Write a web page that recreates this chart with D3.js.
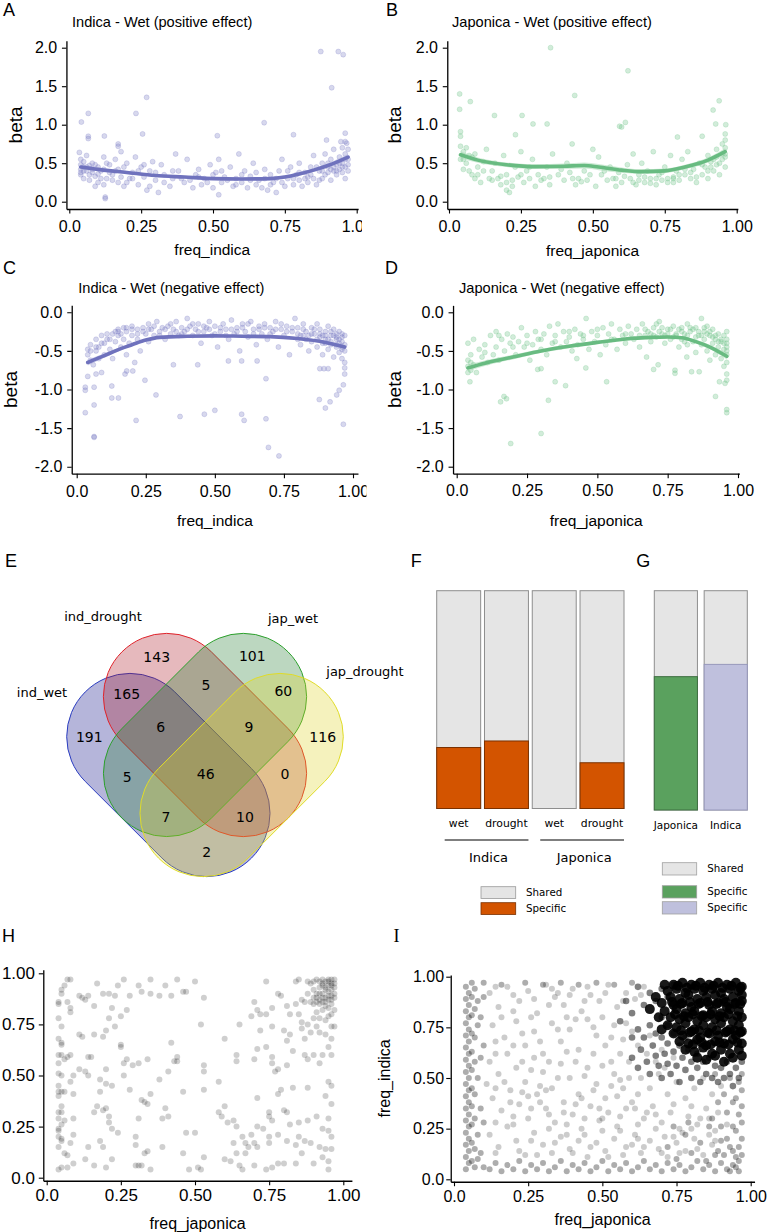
<!DOCTYPE html>
<html><head><meta charset="utf-8">
<script src="https://cdn.jsdelivr.net/npm/d3@7"></script>
<style>html,body{margin:0;padding:0;background:#fff;} svg{display:block;}</style>
</head><body>
<svg id="fig" width="767" height="1232"></svg>
<script>
// ---------------- DATA ----------------
const freqTicks = [0, 0.25, 0.5, 0.75, 1];
const freqLabels = ["0.0", "0.25", "0.50", "0.75", "1.00"];
const betaPosTicks = [0, 0.5, 1, 1.5, 2];
const betaPosLabels = ["0.0", "0.5", "1.0", "1.5", "2.0"];
const betaNegTicks = [-2, -1.5, -1, -0.5, 0];
const betaNegLabels = ["-2.0", "-1.5", "-1.0", "-0.5", "0.0"];

// A: Indica wet positive (freq_indica, beta)
const aPoints = [
.875,1.95,.936,1.95,.953,1.91,.913,1.48,.269,1.355,.232,1.147,.066,1.147,.042,1.035,.678,1.026,.515,.857,.066,.85,.066,.82,.122,.853,.255,.88,.78,.87,.96,.89,.17,.75,.17,.72,.035,.64,.125,.06,.125,.04,.52,.09,.895,.80,.945,.78,.965,.76,
.04,.42,.04,.48,.04,.35,.04,.55,.05,.30,.05,.45,.05,.52,.06,.40,.06,.60,.07,.28,.07,.47,.08,.38,.08,.50,.09,.20,.09,.33,.10,.45,.10,.25,.11,.40,.12,.58,.12,.22,.13,.30,.14,.48,.15,.35,.16,.55,.17,.25,.17,.42,.18,.65,.19,.20,.20,.50,.21,.30,.22,.38,.23,.58,.24,.22,.25,.45,.26,.32,.27,.15,.28,.40,.29,.52,.30,.28,.31,.12,.32,.48,.33,.35,.35,.20,.36,.30,.37,.62,.38,.40,.40,.25,.41,.55,.43,.18,.44,.35,.45,.42,.46,.22,.47,.30,.49,.48,.50,.18,.51,.38,.52,.55,.53,.25,.54,.32,.56,.45,.57,.20,.58,.30,.59,.62,.60,.25,.61,.40,.62,.18,.63,.33,.64,.50,.65,.22,.66,.28,.67,.18,.68,.42,.69,.15,.70,.35,.71,.25,.72,.12,.73,.40,.74,.55,.75,.20,.76,.30,.77,.45,.78,.22,.79,.35,.80,.28,.80,.50,.81,.20,.82,.38,.83,.25,.84,.45,.85,.30,.85,.60,.86,.22,.87,.40,.88,.50,.88,.30,.89,.62,.90,.38,.90,.45,.91,.55,.91,.28,.92,.68,.92,.40,.93,.48,.93,.35,.94,.58,.94,.42,.95,.70,.95,.50,.95,.38,.96,.62,.96,.45,.96,.78,.96,.30,.97,.55,.97,.40,.97,.68,
.04,.38,.05,.40,.06,.45,.07,.35,.08,.42,.09,.48,.10,.36,.11,.30,.12,.42,.13,.50,.14,.38,.15,.28,.16,.40,.18,.32,.19,.45,.20,.25,.22,.30,.24,.40,.26,.48,.28,.20,.30,.38,.33,.25,.36,.40,.39,.30,.42,.28,.45,.32,.48,.25,.50,.35,.53,.40,.55,.28,.58,.22,.60,.35,.63,.28,.65,.38,.68,.30,.70,.22,.72,.30,.74,.25,.76,.40,.78,.30,.80,.38,.82,.30,.84,.35,.86,.45,.88,.40,.90,.50,.92,.45,.94,.50,.96,.55,.97,.48,.83,.32,.87,.28,.89,.35,.91,.42,.93,.40,.95,.45
];
const aFitX = [.04,.1,.2,.3,.4,.5,.6,.7,.75,.8,.85,.9,.97];
const aFitY = [.45,.42,.38,.34,.32,.30,.295,.30,.32,.36,.41,.47,.58];
const aFitSE = [.035,.025,.02,.02,.018,.018,.018,.02,.02,.022,.025,.03,.04];

// B: Japonica wet positive
const bPoints = [
.353,2.0,.622,1.70,.037,1.40,.437,1.38,.939,1.31,.074,1.30,.037,1.20,.918,1.19,.158,1.12,.254,1.12,.341,1.01,.292,1.01,.593,.98,.60,.97,.962,1.0,.927,1.01,.613,1.03,.794,.84,.88,.85,.428,.75,.231,.87,.04,.91,.04,.85,.96,.88,
.04,.72,.04,.55,.05,.65,.05,.42,.06,.50,.06,.70,.07,.40,.08,.58,.08,.35,.09,.30,.09,.62,.10,.45,.11,.25,.12,.52,.13,.68,.14,.30,.15,.40,.16,.50,.17,.30,.18,.22,.19,.60,.20,.15,.20,.35,.21,.12,.22,.28,.23,.45,.24,.32,.25,.65,.26,.25,.27,.40,.28,.30,.29,.55,.30,.20,.31,.35,.33,.30,.34,.45,.35,.22,.36,.62,.38,.35,.40,.28,.41,.50,.42,.38,.44,.22,.45,.30,.47,.40,.48,.28,.50,.68,.51,.20,.52,.58,.53,.35,.55,.28,.56,.45,.57,.30,.58,.20,.59,.38,.60,.25,.62,.48,.63,.30,.64,.62,.65,.22,.66,.35,.67,.50,.68,.25,.69,.40,.70,.30,.71,.65,.72,.22,.73,.35,.74,.28,.75,.45,.76,.30,.77,.60,.78,.32,.78,.25,.79,.40,.80,.28,.81,.55,.82,.35,.83,.65,.84,.30,.85,.42,.86,.25,.87,.50,.88,.35,.89,.45,.90,.60,.90,.30,.91,.52,.92,.40,.93,.68,.93,.48,.94,.35,.95,.75,.95,.55,.96,.62,.96,.70,.96,.45,.96,.80,
.05,.55,.07,.60,.10,.35,.12,.40,.15,.28,.18,.33,.20,.25,.22,.20,.25,.35,.28,.45,.32,.28,.35,.32,.39,.42,.43,.30,.46,.26,.49,.35,.54,.40,.58,.30,.61,.33,.64,.25,.66,.28,.68,.32,.70,.24,.72,.30,.74,.38,.76,.25,.78,.30,.80,.35,.82,.42,.84,.38,.86,.32,.88,.48,.90,.40,.92,.55,.94,.50,.95,.62,.96,.58,.93,.58,.91,.45
];
const bFitX = [.04,.1,.2,.3,.4,.47,.52,.6,.67,.75,.82,.9,.96];
const bFitY = [.61,.54,.48,.455,.46,.47,.45,.41,.39,.40,.45,.54,.65];
const bFitSE = [.045,.035,.03,.03,.035,.04,.04,.035,.03,.03,.03,.035,.045];

// C: Indica wet negative
const cPoints = [
.063,-1.62,.063,-1.61,.031,-1.30,.063,-1.20,.215,-1.40,.374,-1.35,.462,-1.32,.50,-1.27,.597,-1.32,.606,-1.40,.685,-1.38,.694,-1.75,.732,-1.86,.965,-1.45,.90,-1.24,.878,-1.13,.917,-1.16,.941,-1.07,.95,-1.01,.965,-.94,.127,-1.11,.151,-1.11,.287,-1.07,.127,-.955,.031,-.97,.063,-.97,.031,-1.01,.247,-.88,.685,-.86,.175,-.80,.181,-.76,.203,-.76,.35,-.68,.438,-.68,.549,-.63,.597,-.63,.653,-.63,.88,-.73,.895,-.73,.91,-.73,.04,-.83,.07,-.80,.09,-.78,
.04,-.48,.04,-.55,.05,-.62,.05,-.42,.06,-.68,.07,-.50,.07,-.35,.08,-.45,.08,-.60,.09,-.30,.10,-.40,.10,-.55,.11,-.28,.12,-.35,.12,-.48,.13,-.60,.14,-.25,.14,-.38,.15,-.22,.15,-.30,.16,-.45,.16,-.28,.17,-.20,.17,-.35,.18,-.55,.18,-.25,.19,-.40,.20,-.18,.20,-.30,.21,-.65,.22,-.22,.22,-.35,.23,-.50,.24,-.20,.25,-.28,.26,-.15,.26,-.38,.27,-.22,.28,-.30,.29,-.12,.30,-.25,.31,-.20,.32,-.35,.33,-.18,.34,-.28,.35,-.22,.36,-.12,.37,-.30,.38,-.20,.39,-.25,.40,-.08,.41,-.18,.42,-.30,.43,-.22,.44,-.15,.45,-.40,.46,-.25,.47,-.20,.48,-.12,.49,-.30,.50,-.18,.51,-.45,.52,-.25,.53,-.15,.54,-.22,.55,-.35,.56,-.10,.57,-.28,.58,-.20,.59,-.50,.60,-.15,.61,-.25,.62,-.32,.63,-.12,.64,-.22,.65,-.42,.66,-.18,.67,-.28,.68,-.15,.69,-.35,.70,-.20,.71,-.25,.72,-.12,.73,-.45,.74,-.22,.75,-.30,.76,-.18,.77,-.55,.78,-.25,.79,-.08,.80,-.35,.80,-.20,.81,-.42,.82,-.15,.82,-.30,.83,-.25,.84,-.50,.85,-.20,.85,-.38,.86,-.28,.87,-.15,.87,-.45,.88,-.32,.88,-.22,.89,-.40,.89,-.55,.90,-.25,.90,-.35,.91,-.48,.91,-.18,.92,-.30,.92,-.42,.93,-.22,.93,-.58,.94,-.35,.94,-.28,.94,-.45,.95,-.40,.95,-.25,.95,-.52,.96,-.32,.96,-.45,.96,-.60,.96,-.38,.97,-.42,.97,-.50,.97,-.30,.97,-.65,.97,-.72,.97,-.80,
.15,-.25,.18,-.20,.20,-.22,.22,-.28,.24,-.25,.26,-.22,.28,-.18,.30,-.30,.32,-.22,.34,-.15,.36,-.25,.38,-.28,.40,-.22,.42,-.15,.44,-.25,.46,-.18,.48,-.22,.50,-.28,.52,-.20,.54,-.30,.56,-.22,.58,-.25,.60,-.20,.62,-.15,.64,-.28,.66,-.22,.68,-.20,.70,-.28,.72,-.22,.74,-.15,.76,-.25,.78,-.20,.80,-.28,.82,-.22,.84,-.30,.86,-.22,.88,-.28,.90,-.30,.92,-.25,.94,-.32,.96,-.28,.90,-.40,.92,-.38,.94,-.42,.96,-.48,.95,-.35,.93,-.30,.91,-.35,.89,-.30,.87,-.35,.85,-.28,.83,-.35,.81,-.30,.13,-.28,.11,-.35,.09,-.40,.07,-.45,.05,-.50
];
const cFitX = [.04,.08,.12,.16,.2,.25,.3,.4,.5,.6,.7,.8,.9,.97];
const cFitY = [-.65,-.59,-.53,-.47,-.42,-.36,-.325,-.31,-.305,-.31,-.315,-.34,-.39,-.45];
const cFitSE = [.04,.03,.025,.02,.02,.018,.015,.015,.015,.015,.015,.018,.02,.03];

// D: Japonica wet negative
const dPoints = [
.192,-1.70,.30,-1.57,.156,-1.16,.168,-1.09,.177,-1.12,.326,-1.14,.35,-.90,.387,-.95,.533,-.90,.92,-1.09,.96,-1.26,.96,-1.30,.047,-.90,.288,-.74,.30,-.73,.459,-.72,.427,-.60,.70,-.74,.716,-.68,.776,-.75,.776,-.79,.835,-.77,.862,-.77,.934,-.90,.954,-.92,.818,-.58,.675,-.58,
.04,-.62,.04,-.70,.04,-.40,.05,-.75,.05,-.55,.06,-.35,.06,-.68,.07,-.78,.08,-.48,.09,-.58,.10,-.42,.11,-.65,.12,-.30,.13,-.55,.14,-.25,.14,-.45,.15,-.62,.16,-.35,.17,-.50,.18,-.28,.19,-.40,.20,-.32,.21,-.55,.22,-.38,.23,-.20,.24,-.45,.25,-.30,.26,-.62,.27,-.42,.28,-.25,.29,-.35,.30,-.48,.31,-.28,.32,-.55,.33,-.18,.34,-.40,.35,-.30,.36,-.15,.37,-.45,.38,-.25,.39,-.38,.40,-.32,.41,-.50,.42,-.22,.43,-.42,.44,-.28,.45,-.35,.46,-.08,.47,-.48,.48,-.25,.49,-.38,.50,-.30,.51,-.55,.52,-.20,.53,-.42,.54,-.28,.55,-.15,.56,-.35,.57,-.48,.58,-.22,.59,-.30,.60,-.40,.61,-.18,.62,-.28,.63,-.35,.64,-.22,.65,-.45,.66,-.15,.67,-.30,.68,-.25,.69,-.38,.70,-.20,.71,-.32,.72,-.12,.73,-.28,.74,-.40,.75,-.22,.76,-.35,.77,-.18,.78,-.30,.79,-.45,.80,-.20,.80,-.35,.81,-.28,.82,-.15,.82,-.42,.83,-.25,.84,-.38,.85,-.20,.85,-.52,.86,-.30,.87,-.08,.87,-.42,.88,-.25,.88,-.35,.89,-.18,.89,-.50,.90,-.30,.90,-.62,.91,-.22,.91,-.40,.92,-.35,.92,-.55,.93,-.28,.93,-.45,.94,-.60,.94,-.38,.95,-.30,.95,-.48,.95,-.70,.96,-.40,.96,-.55,.96,-.65,.96,-.80,.96,-.88,.96,-.35,.96,-.25,.96,-.50,
.70,-.30,.72,-.25,.74,-.30,.76,-.22,.78,-.28,.80,-.25,.82,-.30,.84,-.22,.86,-.25,.88,-.20,.90,-.25,.92,-.30,.94,-.35,.96,-.45,.95,-.40,.93,-.38,.91,-.32,.89,-.28,.87,-.30,.85,-.32,.83,-.20,.81,-.38,.79,-.22,.77,-.32,.75,-.28,.73,-.20,.71,-.15,.69,-.28,.67,-.22,.65,-.30,.60,-.28,.55,-.35,.50,-.22,.45,-.30,.40,-.25,.35,-.38,.30,-.35,.25,-.40,.20,-.45,.15,-.30,.10,-.52,.05,-.65,.04,-.78
];
const dFitX = [.04,.1,.2,.3,.4,.5,.6,.7,.75,.8,.85,.9,.96];
const dFitY = [-.72,-.66,-.58,-.50,-.44,-.39,-.345,-.325,-.32,-.33,-.38,-.45,-.57];
const dFitSE = [.045,.035,.03,.025,.025,.02,.02,.02,.02,.02,.025,.03,.04];

// E: Venn
const vennSets = ["ind_wet", "ind_drought", "jap_wet", "jap_drought"];
const vennRegions = ["1000","0100","0010","0001","1100","0110","0011","1110","0111","1010","1111","0101","1011","1101","1001"];
const vennCounts = [191, 143, 101, 116, 165, 5, 60, 6, 9, 5, 46, 0, 7, 10, 2];

// F: specific fraction per trait
const fCategories = ["wet", "drought", "wet", "drought"];
const fGroups = ["Indica", "Indica", "Japonica", "Japonica"];
const fSpecific = [0.28, 0.31, 0.0, 0.21];
const fLegend = ["Shared", "Specific"];

// G: specific fraction per subspecies
const gCategories = ["Japonica", "Indica"];
const gSpecific = [0.608, 0.664];
const gLegend = ["Shared", "Specific", "Specific"];

// H: freq_japonica vs freq_indica (subset)
const hPoints = [
.04,.86,.04,.85,.04,.78,.04,.68,.04,.60,.04,.56,.04,.51,.04,.45,.04,.42,.04,.40,.04,.32,.04,.29,.04,.24,.04,.23,.04,.20,.04,.15,.04,.04,.05,.92,.05,.90,.05,.74,.05,.66,.05,.65,.05,.60,.05,.50,.05,.42,.05,.35,.05,.32,.05,.26,.05,.19,.05,.18,.05,.05,.06,.94,.06,.58,.06,.42,.06,.28,.06,.12,.07,.97,.07,.86,.07,.59,.07,.11,.07,.05,.08,.97,.08,.83,.08,.81,.08,.60,.08,.47,.08,.17,.09,.50,.09,.41,.09,.29,.09,.21,.09,.07,.11,.89,.11,.70,.11,.53,.12,.88,.12,.69,.13,.87,.13,.52,.13,.09,.14,.89,.14,.59,.14,.50,.14,.15,.15,.59,.16,.84,.16,.70,.16,.32,.16,.06,.17,.95,.17,.35,.18,.48,.18,.42,.18,.18,.19,.15,.19,.69,.19,.90,.19,.33,.20,.72,.20,.53,.20,.46,.20,.34,.20,.05,.21,.78,.21,.30,.21,.27,.21,.90,.22,.83,.22,.45,.22,.24,.22,.09,.23,.89,.23,.74,.24,.94,.24,.22,.25,.79,.25,.65,.25,.64,.26,.97,.26,.50,.26,.56,.27,.82,.27,.58,.28,.89,.28,.43,.29,.55,.30,.16,.30,.20,.30,.06,.31,.94,.31,.56,.31,.29,.31,.06,.32,.91,.32,.38,.32,.06,.33,.37,.33,.12,.34,.36,.34,.13,.34,.58,.35,.97,.35,.90,.35,.41,.35,.04,.38,.89,.38,.48,.39,.15,.39,.29,.40,.94,.40,.34,.41,.30,.41,.52,.42,.89,.42,.66,.43,.57,.44,.97,.44,.59,.44,.57,.46,.91,.46,.42,.46,.12,.47,.91,.47,.22,.48,.04,.50,.96,.50,.22,.51,.05,.52,.04,.52,.75,.53,.88,.53,.55,.53,.52,.53,.43,.53,.10,.58,.47,.58,.32,.59,.30,.60,.68,.60,.35,.60,.09,.61,.27,.62,.08,.63,.17,.63,.28,.64,.60,.64,.57,.64,.12,.64,.25,.65,.75,.65,.06,.66,.04,.66,.20,.67,.17,.67,.12,.68,.15,.69,.21,.69,.79,.70,.86,.70,.58,.70,.17,.70,.06,.71,.82,.71,.63,.71,.25,.71,.39,.71,.15,.72,.80,.72,.72,.73,.24,.74,.80,.74,.96,.74,.04,.74,.64,.75,.30,.75,.32,.75,.20,.75,.17,.76,.83,.76,.74,.76,.59,.76,.56,.76,.28,.76,.05,.77,.52,.78,.90,.78,.41,.78,.21,.78,.07,.78,.53,.79,.89,.79,.43,.80,.72,.80,.33,.80,.07,.81,.84,.81,.67,.81,.55,.81,.32,.81,.18,.82,.80,.82,.26,.82,.70,.83,.44,.83,.62,.84,.96,.84,.85,.84,.16,.84,.07,.85,.97,.85,.80,.85,.27,.85,.20,.86,.87,.86,.76,.86,.73,.86,.12,.87,.86,.87,.68,.87,.18,.87,.60,.88,.96,.88,.90,.88,.75,.88,.58,.88,.44,.88,.28,.89,.95,.89,.86,.89,.71,.89,.17,.90,.96,.90,.92,.90,.85,.90,.78,.90,.60,.90,.07,.91,.97,.91,.90,.91,.88,.91,.81,.91,.74,.91,.30,.92,.96,.92,.93,.92,.85,.92,.78,.92,.71,.92,.56,.92,.15,.93,.97,.93,.94,.93,.90,.93,.86,.93,.82,.93,.60,.93,.24,.93,.10,.94,.96,.94,.92,.94,.88,.94,.84,.94,.77,.94,.70,.94,.40,.94,.14,.95,.97,.95,.94,.95,.91,.95,.87,.95,.83,.95,.79,.95,.64,.95,.47,.95,.29,.95,.23,.95,.08,.95,.04,.96,.97,.96,.95,.96,.92,.96,.89,.96,.85,.96,.80,.96,.74,.96,.68,.96,.60,.96,.45,.96,.36,.96,.20,.96,.14,.97,.97,.97,.93,.97,.88,.97,.82,.97,.74,
.93,.95,.94,.93,.95,.96,.96,.94,.92,.90,.93,.88,.94,.86,.95,.89,.91,.86,.90,.88,.92,.87,.96,.87,.97,.90,.97,.95
];

// I: freq_japonica vs freq_indica (all variants)
const iSparse = [
.12,.92,.15,.85,.18,.95,.22,.88,.25,.93,.28,.82,.31,.96,.34,.90,.37,.86,.40,.94,.43,.83,.46,.91,.49,.88,.52,.96,.55,.85,.58,.92,.61,.89,.64,.95,.13,.76,.17,.70,.21,.78,.24,.66,.27,.73,.30,.62,.33,.77,.36,.68,.39,.74,.42,.64,.45,.79,.48,.71,.51,.66,.54,.76,.57,.69,.60,.73,.12,.58,.15,.52,.18,.62,.21,.55,.24,.48,.27,.60,.30,.53,.33,.45,.36,.57,.39,.50,.42,.42,.45,.55,.48,.47,.51,.40,.54,.52,.57,.45,.60,.38,.63,.50,.13,.40,.16,.34,.19,.44,.22,.37,.25,.30,.28,.42,.31,.35,.34,.28,.37,.38,.40,.32,.43,.25,.46,.36,.49,.29,.52,.33,.55,.26,.58,.35,.61,.22,.64,.30,.67,.36,.70,.28,.73,.33,.76,.25,.79,.31,.82,.27,.85,.35,.88,.24,.12,.22,.15,.16,.18,.26,.21,.19,.24,.12,.27,.23,.30,.17,.33,.13,.36,.21,.39,.15,.42,.19,.45,.11,.48,.18,.51,.14,.54,.20,.57,.12,.60,.17,.63,.13,.66,.19,.69,.15,.72,.11,.75,.18,.78,.14,.81,.20,.84,.12,.87,.17,.66,.45,.69,.52,.72,.42,.75,.48,.78,.40,.81,.45,.84,.50,.87,.42,.90,.46,.65,.62,.68,.58,.71,.55,.74,.60,.62,.66,.66,.71,.70,.64,.14,.68,.20,.83,.26,.80,.32,.86,.38,.80,.44,.88,.50,.80,.56,.62,.59,.58,.35,.92,.41,.58,.47,.62,.53,.58,.23,.58,.29,.46,.35,.50,.11,.47,.17,.48,.23,.43,.29,.38,.41,.37,.47,.44,.53,.46,.59,.50,.62,.42,.65,.33,.68,.25,.71,.21,.74,.37,.77,.23,.80,.36,.83,.30,.86,.22,.89,.33,.20,.27,.26,.35,.32,.25,.38,.22,.44,.30,.50,.24,.56,.31,.62,.27,
.14,.95,.20,.91,.27,.89,.33,.94,.39,.91,.45,.95,.51,.92,.57,.88,.63,.91,.16,.80,.23,.72,.29,.68,.35,.74,.41,.79,.47,.75,.53,.70,.58,.77,.14,.62,.20,.66,.26,.54,.32,.58,.38,.63,.44,.51,.50,.56,.56,.49,.14,.45,.19,.38,.25,.41,.31,.44,.37,.33,.43,.40,.49,.35,.55,.41,.61,.35,.14,.28,.20,.31,.26,.19,.32,.32,.38,.27,.44,.22,.50,.30,.56,.24,.62,.20,.68,.32,.74,.21,.80,.25,.86,.30,.92,.27,.14,.13,.22,.14,.28,.12,.34,.18,.40,.13,.46,.16,.52,.11,.58,.16,.64,.16,.70,.13,.76,.13,.82,.15,.88,.19
];
const iEdge = [
.04,.95,.04,.89,.04,.83,.04,.77,.04,.71,.04,.65,.04,.59,.04,.53,.04,.47,.04,.41,.04,.35,.04,.29,.04,.23,.04,.17,.04,.11,.04,.05,.05,.92,.05,.86,.05,.80,.05,.74,.05,.68,.05,.62,.05,.56,.05,.50,.05,.44,.05,.38,.05,.32,.05,.26,.05,.20,.05,.14,.05,.08,.06,.97,.06,.90,.06,.81,.06,.72,.06,.63,.06,.54,.06,.45,.06,.36,.06,.27,.06,.18,.06,.09,.07,.94,.07,.84,.07,.70,.07,.58,.07,.42,.07,.30,.07,.15,.07,.06,.08,.88,.08,.76,.08,.50,.08,.22,.08,.10,.09,.80,.09,.60,.09,.35,.09,.13,.10,.90,.10,.66,.10,.28,.10,.06,
.12,.05,.14,.08,.16,.04,.18,.07,.20,.05,.22,.09,.24,.04,.26,.07,.28,.05,.30,.08,.32,.04,.34,.06,.36,.09,.38,.04,.40,.07,.42,.05,.44,.08,.46,.04,.48,.06,.50,.09,.52,.04,.54,.07,.56,.05,.58,.08,.60,.04,.62,.06,.64,.09,.66,.05,.68,.07,.70,.04,.72,.08,.74,.05,.76,.07,.78,.04,.80,.06,.82,.09,.84,.05,.86,.07,.88,.04,.90,.08,.92,.05,.94,.07,.96,.04,.96,.09,.95,.06,.93,.04,
.10,.97,.16,.96,.24,.97,.30,.96,.36,.97,.42,.96,.48,.97,.54,.96,.60,.97,
.97,.12,.96,.16,.97,.20,.95,.24,.97,.28,.96,.32,.97,.36,.95,.40,.97,.44,.96,.48,.97,.52,.94,.14,.94,.26,.94,.38,.93,.50,.92,.20,.92,.33,.91,.12,.91,.42,.90,.26,.89,.14,.89,.38,.88,.52,.87,.30,
.72,.16,.75,.10,.78,.22,.80,.13,.83,.18,.85,.09,.88,.12,.90,.19,.93,.16,.95,.11,.86,.26,.79,.28,.74,.26
];
const iMid = [
.60,.60,.62,.55,.63,.64,.65,.58,.66,.52,.67,.66,.68,.61,.69,.56,.70,.70,.70,.50,.71,.62,.72,.57,.72,.67,.73,.52,.74,.63,.74,.72,.75,.56,.76,.66,.76,.48,.77,.60,.78,.54,.78,.70,.79,.64,.80,.50,.80,.58,.81,.68,.82,.55,.82,.62,.83,.48,.84,.58,.85,.52,.86,.60,.87,.50,.88,.56,.89,.48,.90,.55,.91,.50,.92,.58,.93,.52,.94,.46,.95,.55,.96,.50,.97,.58,.64,.70,.66,.76,.68,.72,.70,.80,.72,.76,.62,.74,.60,.82,.64,.86,.66,.92,.68,.88,.70,.94,.72,.90,.74,.96,.62,.95,.58,.88,.56,.78,.60,.70
];
const iCore = [
.74,.96,.77,.97,.80,.96,.83,.97,.86,.96,.89,.97,.92,.96,.95,.97,.97,.95,
.72,.93,.75,.94,.78,.92,.81,.94,.84,.93,.87,.94,.90,.92,.93,.94,.96,.93,
.73,.90,.76,.89,.79,.91,.82,.89,.85,.90,.88,.91,.91,.89,.94,.90,.97,.91,
.70,.87,.74,.86,.77,.87,.80,.85,.83,.87,.86,.86,.89,.87,.92,.85,.95,.87,.97,.88,
.71,.83,.75,.84,.78,.82,.81,.83,.84,.81,.87,.83,.90,.82,.93,.84,.96,.83,
.73,.80,.76,.79,.79,.80,.82,.78,.85,.80,.88,.79,.91,.80,.94,.78,.97,.80,
.72,.76,.75,.75,.78,.77,.81,.74,.84,.76,.87,.75,.90,.77,.93,.74,.96,.76,
.74,.72,.77,.71,.80,.73,.83,.70,.86,.72,.89,.71,.92,.73,.95,.71,.97,.73,
.76,.68,.79,.67,.82,.69,.85,.66,.88,.68,.91,.67,.94,.69,.97,.67,
.78,.64,.81,.63,.84,.65,.87,.62,.90,.64,.93,.62,.96,.64,
.82,.60,.85,.59,.88,.61,.91,.58,.94,.60,.97,.61,
.69,.80,.70,.74,.68,.90,.71,.96,.66,.84,
.755,.955,.785,.945,.815,.955,.845,.945,.875,.955,.905,.945,.935,.955,.965,.945,
.735,.875,.765,.865,.795,.875,.825,.865,.855,.875,.885,.865,.915,.875,.945,.865,.965,.865,
.745,.815,.775,.805,.805,.815,.835,.805,.865,.815,.895,.805,.925,.815,.955,.805,
.765,.735,.795,.725,.825,.735,.855,.725,.885,.735,.915,.725,.945,.735,.965,.725,
.805,.665,.835,.675,.865,.665,.895,.675,.925,.665,.955,.675
];

// ---------------- DRAWING ----------------
const svg = d3.select("#fig");
svg.append("rect").attr("width", 767).attr("height", 1232).attr("fill", "#fff");
const SANS = "'Liberation Sans', Arial, Helvetica, sans-serif";
const VSANS = "'DejaVu Sans', Verdana, sans-serif";

function pairs(a) { const out = []; for (let i = 0; i < a.length; i += 2) out.push([a[i], a[i + 1]]); return out; }
function mkScale(v0, p0, v1, p1, ext) {
  const s = d3.scaleLinear().domain([v0, v1]).range([p0, p1]);
  return d3.scaleLinear().domain(ext).range(ext.map(s));
}
function txt(g, s, x, y, size, opts = {}) {
  return g.append("text").attr("x", x).attr("y", y).text(s)
    .attr("font-family", opts.family || SANS).attr("font-size", size)
    .attr("fill", opts.fill || "#000").attr("text-anchor", opts.anchor || "start");
}

function scatterPanel(cfg) {
  let g = svg.append("g");
  if (cfg.clip) {
    const id = "clip" + cfg.id;
    svg.append("clipPath").attr("id", id).append("rect")
      .attr("x", cfg.clip[0]).attr("y", cfg.clip[1]).attr("width", cfg.clip[2]).attr("height", cfg.clip[3]);
    g.attr("clip-path", `url(#${id})`);
  }
  const x = mkScale(0, cfg.xp[0], 1, cfg.xp[1], cfg.xExt);
  const y = mkScale(cfg.yv[0], cfg.yp[0], cfg.yv[1], cfg.yp[1], cfg.yExt);
  cfg.layers.forEach(L => {
    g.append("g").selectAll("circle").data(pairs(L.data)).join("circle")
      .attr("cx", d => x(d[0])).attr("cy", d => y(d[1])).attr("r", L.r)
      .attr("fill", L.fill).attr("fill-opacity", L.op)
      .attr("stroke", L.stroke || "none").attr("stroke-width", 0.7).attr("stroke-opacity", L.sop || 0);
  });
  if (cfg.fit) {
    const fd = cfg.fit.x.map((v, i) => ({ x: v, y: cfg.fit.y[i], se: cfg.fit.se[i] }));
    g.append("path").datum(fd)
      .attr("d", d3.area().x(d => x(d.x)).y0(d => y(d.y - d.se)).y1(d => y(d.y + d.se)).curve(d3.curveMonotoneX))
      .attr("fill", cfg.fit.band).attr("fill-opacity", 0.55);
    g.append("path").datum(fd)
      .attr("d", d3.line().x(d => x(d.x)).y(d => y(d.y)).curve(d3.curveMonotoneX))
      .attr("fill", "none").attr("stroke", cfg.fit.color).attr("stroke-width", 3.6).attr("stroke-linecap", "round");
  }
  const ax = d3.axisBottom(x).tickValues(cfg.xTicks).tickFormat((d, i) => cfg.xLabels[i])
    .tickSize(4.5).tickPadding(cfg.xPad).tickSizeOuter(0);
  const gx = g.append("g").attr("transform", `translate(0,${y(cfg.yExt[0])})`).call(ax);
  const ay = d3.axisLeft(y).tickValues(cfg.yTicks).tickFormat((d, i) => cfg.yLabels[i])
    .tickSize(4.5).tickPadding(cfg.yPad).tickSizeOuter(0);
  const gy = g.append("g").attr("transform", `translate(${x(cfg.xExt[0])},0)`).call(ay);
  [gx, gy].forEach(a => {
    a.attr("font-family", SANS).attr("font-size", cfg.tickSize);
    a.selectAll("path.domain").attr("stroke", "#000").attr("stroke-width", 1.3);
    a.selectAll(".tick line").attr("stroke", "#000").attr("stroke-width", 1.1);
    a.selectAll(".tick text").attr("fill", "#000");
  });
  const xr = x.range(), yr = y.range();
  txt(g, cfg.xTitle, (xr[0] + xr[1]) / 2, cfg.xTitleY, cfg.xTitleSize, { anchor: "middle" });
  if (cfg.yTitle) {
    g.append("text").text(cfg.yTitle)
      .attr("transform", `translate(${cfg.yTitleX},${(yr[0] + yr[1]) / 2}) rotate(-90)`)
      .attr("text-anchor", "middle").attr("font-family", SANS).attr("font-size", cfg.yTitleSize).attr("fill", "#000");
  }
  if (cfg.title) txt(g, cfg.title, cfg.titleX, cfg.titleY, 14.6);
  return { x, y };
}

const indicaCol = "#7a7dc4", japonicaCol = "#74c58d";

scatterPanel({ id: "A", clip: [0, 0, 362, 268],
  xp: [69.3, 356.7], xExt: [-0.01, 1.005], yv: [0, 2], yp: [201.7, 47.7], yExt: [-0.095, 2.09],
  layers: [{ data: aPoints, r: 2.5, fill: indicaCol, op: 0.3, stroke: indicaCol, sop: 0.35 }],
  fit: { x: aFitX, y: aFitY, se: aFitSE, color: "#6f72bd", band: "#b4b6de" },
  xTicks: freqTicks, xLabels: freqLabels, yTicks: betaPosTicks, yLabels: betaPosLabels,
  xPad: 7.3, yPad: 4.8, tickSize: 16,
  xTitle: "freq_indica", xTitleY: 254.5, xTitleSize: 15.5,
  yTitle: "beta", yTitleX: 21.5, yTitleSize: 19,
  title: "Indica - Wet (positive effect)", titleX: 72, titleY: 26.5 });

scatterPanel({ id: "B",
  xp: [449, 736.7], xExt: [-0.006, 1.004], yv: [0, 2], yp: [201.7, 47.7], yExt: [-0.095, 2.09],
  layers: [{ data: bPoints, r: 2.5, fill: japonicaCol, op: 0.32, stroke: japonicaCol, sop: 0.35 }],
  fit: { x: bFitX, y: bFitY, se: bFitSE, color: "#68bb81", band: "#a9dbb6" },
  xTicks: freqTicks, xLabels: freqLabels, yTicks: betaPosTicks, yLabels: betaPosLabels,
  xPad: 7, yPad: 4.8, tickSize: 16,
  xTitle: "freq_japonica", xTitleY: 256, xTitleSize: 15.5,
  yTitle: "beta", yTitleX: 400.5, yTitleSize: 19,
  title: "Japonica - Wet (positive effect)", titleX: 452, titleY: 26.5 });

scatterPanel({ id: "C", clip: [0, 268, 366.5, 270],
  xp: [76.7, 353], xExt: [-0.018, 1.018], yv: [0, -2], yp: [312.3, 466.7], yExt: [-2.09, 0.09],
  layers: [{ data: cPoints, r: 2.5, fill: indicaCol, op: 0.3, stroke: indicaCol, sop: 0.35 }],
  fit: { x: cFitX, y: cFitY, se: cFitSE, color: "#6f72bd", band: "#b4b6de" },
  xTicks: freqTicks, xLabels: freqLabels, yTicks: betaNegTicks, yLabels: betaNegLabels,
  xPad: 7.5, yPad: 4.8, tickSize: 16,
  xTitle: "freq_indica", xTitleY: 526, xTitleSize: 15.5,
  yTitle: "beta", yTitleX: 16.8, yTitleSize: 19,
  title: "Indica - Wet (negative effect)", titleX: 78.3, titleY: 293.3 });

scatterPanel({ id: "D",
  xp: [456.7, 738], xExt: [-0.013, 1.005], yv: [0, -2], yp: [312.3, 466.7], yExt: [-2.09, 0.09],
  layers: [{ data: dPoints, r: 2.5, fill: japonicaCol, op: 0.32, stroke: japonicaCol, sop: 0.35 }],
  fit: { x: dFitX, y: dFitY, se: dFitSE, color: "#68bb81", band: "#a9dbb6" },
  xTicks: freqTicks, xLabels: freqLabels, yTicks: betaNegTicks, yLabels: betaNegLabels,
  xPad: 6.5, yPad: 4.8, tickSize: 16,
  xTitle: "freq_japonica", xTitleY: 526, xTitleSize: 15.5,
  yTitle: "beta", yTitleX: 401.3, yTitleSize: 19,
  title: "Japonica - Wet (negative effect)", titleX: 459, titleY: 293.3 });

scatterPanel({ id: "H",
  xp: [46.7, 343.3], xExt: [-0.0115, 1.029], yv: [0, 1], yp: [1177.7, 973.3], yExt: [-0.015, 1.017],
  layers: [{ data: hPoints, r: 3, fill: "#000", op: 0.19 }],
  xTicks: freqTicks, xLabels: freqLabels, yTicks: freqTicks, yLabels: freqLabels,
  xPad: 4.1, yPad: 3.8, tickSize: 17,
  xTitle: "freq_japonica", xTitleY: 1228.5, xTitleSize: 16 });

scatterPanel({ id: "I",
  xp: [454, 750.7], xExt: [-0.011, 1.013], yv: [0, 1], yp: [1179.3, 976.7], yExt: [-0.012, 1.008],
  layers: [
    { data: iSparse, r: 3, fill: "#000", op: 0.2 },
    { data: iEdge, r: 3, fill: "#000", op: 0.32 },
    { data: iMid, r: 3.3, fill: "#000", op: 0.5 },
    { data: iCore, r: 5, fill: "#000", op: 0.9 }],
  xTicks: freqTicks, xLabels: freqLabels, yTicks: freqTicks, yLabels: freqLabels,
  xPad: 4.5, yPad: 2.2, tickSize: 16,
  xTitle: "freq_japonica", xTitleY: 1225.3, xTitleSize: 16,
  yTitle: "freq_indica", yTitleX: 389.5, yTitleSize: 16 });

// ---- Panel E: Venn diagram (4 capsules) ----
const vennGeom = [
  { c1: [130, 736.7], c2: [206.7, 813.3] },
  { c1: [166.7, 696.7], c2: [243.3, 773.3] },
  { c1: [243.3, 696.7], c2: [166.7, 773.3] },
  { c1: [280, 736.7], c2: [203.3, 813.3] }];
const vennR = 63.3;
const vennFill = ["#0a0a86", "#ac1626", "#207a2d", "#ded426"];
const vennStroke = ["#2a3cc0", "#e0242c", "#2ca02c", "#e0dc28"];
const vennNamePos = [[42, 692], [103, 616], [293, 618], [365, 671]];
const vennCountPos = {
  "1000": [89.3, 737.3], "0100": [156.7, 657.3], "0010": [252.3, 656], "0001": [322.7, 736.7],
  "1100": [126.7, 694], "0110": [206, 685.3], "0011": [283.3, 690.7], "1110": [160.7, 726.7],
  "0111": [249, 727.3], "1010": [127.3, 776.7], "1111": [205.7, 774.3], "0101": [285, 774],
  "1011": [166, 816.7], "1101": [245, 816.7], "1001": [206.7, 852.3] };
function capsule(c1, c2, r) {
  const dx = c2[0] - c1[0], dy = c2[1] - c1[1], L = Math.hypot(dx, dy);
  const ux = dx / L, uy = dy / L, nx = -uy * r, ny = ux * r;
  const p = d3.path();
  p.moveTo(c1[0] + nx, c1[1] + ny);
  p.lineTo(c2[0] + nx, c2[1] + ny);
  const a0 = Math.atan2(ny, nx);
  p.arc(c2[0], c2[1], r, a0, a0 - Math.PI, true);
  p.lineTo(c1[0] - nx, c1[1] - ny);
  p.arc(c1[0], c1[1], r, a0 - Math.PI, a0 - 2 * Math.PI, true);
  p.closePath();
  return p.toString();
}
const gE = svg.append("g");
vennSets.forEach((s, i) => {
  gE.append("path").attr("d", capsule(vennGeom[i].c1, vennGeom[i].c2, vennR))
    .attr("fill", vennFill[i]).attr("fill-opacity", 0.3)
    .attr("stroke", vennStroke[i]).attr("stroke-width", 1);
});
vennSets.forEach((s, i) => {
  txt(gE, s, vennNamePos[i][0], vennNamePos[i][1], 13, { family: VSANS, anchor: "middle" }).attr("dy", "0.35em");
});
vennRegions.forEach((r, i) => {
  const p = vennCountPos[r];
  txt(gE, String(vennCounts[i]), p[0], p[1], 14, { family: VSANS, anchor: "middle" }).attr("dy", "0.36em");
});

// ---- Panel F ----
const gF = svg.append("g");
const fX = d3.scaleBand().domain(d3.range(fSpecific.length)).range([436.7, 624]).paddingInner(0.08);
const fY = d3.scaleLinear().domain([0, 1]).range([808.5, 590.7]);
gF.selectAll("rect.shared").data(fSpecific).join("rect").attr("class", "shared")
  .attr("x", (d, i) => fX(i)).attr("y", fY(1)).attr("width", fX.bandwidth()).attr("height", fY(0) - fY(1))
  .attr("fill", "#e5e5e5").attr("stroke", "#8e8e8e").attr("stroke-width", 1);
gF.selectAll("rect.spec").data(fSpecific).join("rect").attr("class", "spec")
  .attr("x", (d, i) => fX(i)).attr("y", d => fY(d)).attr("width", fX.bandwidth()).attr("height", d => fY(0) - fY(d))
  .attr("fill", "#d35400").attr("stroke", d => d > 0 ? "#7a3100" : "none").attr("stroke-width", 1);
fCategories.forEach((c, i) => {
  txt(gF, c, fX(i) + fX.bandwidth() / 2, 827.3, 10.8, { family: VSANS, anchor: "middle" });
});
Array.from(new Set(fGroups)).forEach(grp => {
  const idx = fGroups.map((g, i) => g === grp ? i : -1).filter(i => i >= 0);
  const c0 = fX(idx[0]) + fX.bandwidth() / 2, c1 = fX(idx[idx.length - 1]) + fX.bandwidth() / 2;
  const x0 = c0 - 14, x1 = c1 + 22;
  gF.append("line").attr("x1", x0).attr("x2", x1).attr("y1", 840).attr("y2", 840).attr("stroke", "#000").attr("stroke-width", 1.2);
  txt(gF, grp, (x0 + x1) / 2 + 2, 862, 13, { family: VSANS, anchor: "middle" });
});
const fLegCol = ["#e5e5e5", "#d35400"], fLegStroke = ["#999", "#7a3100"], fLegY = [886.7, 902.7];
fLegend.forEach((l, i) => {
  gF.append("rect").attr("x", 481).attr("y", fLegY[i]).attr("width", 34.7).attr("height", 11.8)
    .attr("fill", fLegCol[i]).attr("stroke", fLegStroke[i]).attr("stroke-width", 0.8);
  txt(gF, l, 526, fLegY[i] + 9.5, 10.3, { family: VSANS });
});

// ---- Panel G ----
const gG = svg.append("g");
const gX = d3.scaleBand().domain(gCategories).range([654.3, 747.3]).paddingInner(0.135);
const gY = d3.scaleLinear().domain([0, 1]).range([810, 590.7]);
const gCol = ["#5aa15e", "#bfc0dd"], gStroke = ["#3d6e40", "#9698bb"];
gG.selectAll("rect.shared").data(gSpecific).join("rect").attr("class", "shared")
  .attr("x", (d, i) => gX(gCategories[i])).attr("y", gY(1)).attr("width", gX.bandwidth()).attr("height", gY(0) - gY(1))
  .attr("fill", "#e5e5e5").attr("stroke", "#8e8e8e").attr("stroke-width", 1);
gG.selectAll("rect.spec").data(gSpecific).join("rect").attr("class", "spec")
  .attr("x", (d, i) => gX(gCategories[i])).attr("y", d => gY(d)).attr("width", gX.bandwidth()).attr("height", d => gY(0) - gY(d))
  .attr("fill", (d, i) => gCol[i]).attr("stroke", (d, i) => gStroke[i]).attr("stroke-width", 1);
gCategories.forEach(c => {
  txt(gG, c, gX(c) + gX.bandwidth() / 2, 829, 10.5, { family: VSANS, anchor: "middle" });
});
const gLegCol = ["#e5e5e5", "#5aa15e", "#bfc0dd"], gLegY = [862.7, 885.7, 901.7];
gLegend.forEach((l, i) => {
  gG.append("rect").attr("x", 662.3).attr("y", gLegY[i]).attr("width", 34.4).attr("height", 12.3)
    .attr("fill", gLegCol[i]).attr("stroke", "#a0a0a0").attr("stroke-width", 0.8);
  txt(gG, l, 707.3, gLegY[i] + 9.6, 10.3, { family: VSANS });
});

// ---- panel letters ----
const letters = [["A", 3, 16], ["B", 386, 16], ["C", 3, 274], ["D", 385, 274], ["E", 5, 567],
  ["F", 410.7, 567], ["G", 636.3, 567], ["H", 2, 941.5]];
letters.forEach(l => txt(svg, l[0], l[1], l[2], 18));
txt(svg, "I", 393.5, 941.5, 18, { family: "'Liberation Serif', serif" });
</script>
</body></html>
